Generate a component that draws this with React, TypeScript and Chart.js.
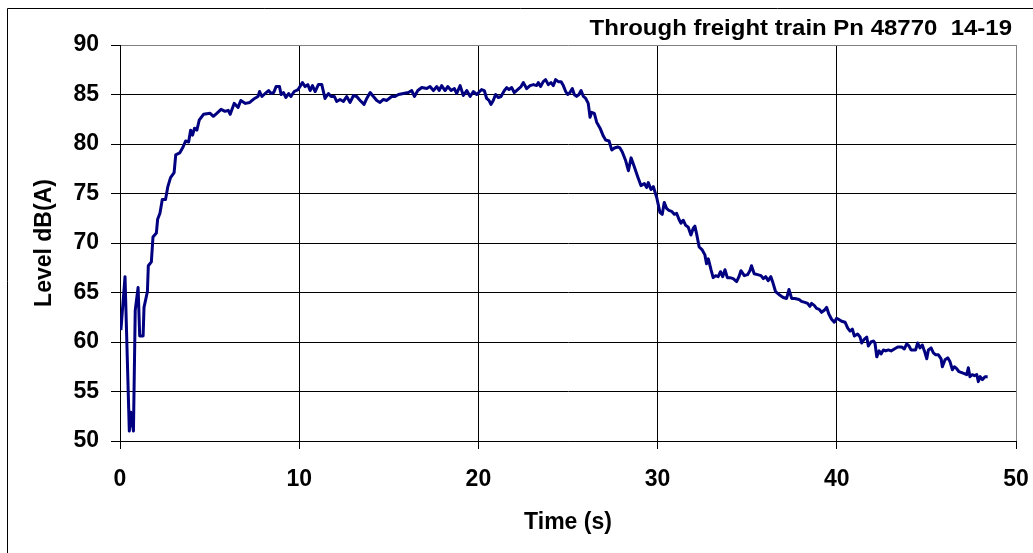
import React, { useEffect, useRef } from "react";
import { Chart, registerables } from "chart.js";

Chart.register(...registerables);

// Pass-by noise record: time since start of measurement (s)
const timeSec = [
  0.05, 0.28, 0.52, 0.6, 0.75, 0.85, 1.01, 1.1, 1.29, 1.34, 1.53, 1.58, 1.75, 1.84, 2.03, 2.1, 2.23, 2.36, 2.54, 2.67,
  2.82, 3.02, 3.11, 3.33, 3.52, 3.66, 3.83, 3.94, 4.05, 4.16, 4.29, 4.42, 4.66, 5.03, 5.21, 5.4, 5.64, 5.86, 6.04, 6.15,
  6.37, 6.59, 6.74, 7.0, 7.24, 7.51, 7.7, 7.79, 7.92, 8.16, 8.29, 8.43, 8.58, 8.71, 8.9, 8.99, 9.12, 9.26, 9.41, 9.54,
  9.72, 9.94, 10.18, 10.33, 10.48, 10.61, 10.74, 10.89, 11.07, 11.26, 11.44, 11.63, 11.78, 11.96, 12.09, 12.28, 12.47, 12.65, 12.84, 13.03,
  13.21, 13.4, 13.62, 13.77, 13.96, 14.14, 14.33, 14.51, 14.7, 14.89, 15.16, 15.35, 15.54, 15.82, 16.09, 16.28, 16.43, 16.62, 16.84, 17.12,
  17.3, 17.49, 17.68, 17.81, 17.95, 18.14, 18.29, 18.48, 18.66, 18.79, 18.98, 19.16, 19.35, 19.54, 19.72, 19.91, 20.18, 20.33, 20.46, 20.59,
  20.7, 20.83, 20.96, 21.11, 21.26, 21.45, 21.58, 21.71, 21.86, 22.0, 22.19, 22.38, 22.51, 22.69, 22.88, 23.07, 23.25, 23.34, 23.47, 23.62,
  23.75, 23.9, 24.05, 24.18, 24.31, 24.46, 24.61, 24.74, 24.87, 24.98, 25.11, 25.24, 25.35, 25.48, 25.61, 25.73, 25.86, 25.99, 26.13, 26.23,
  26.32, 26.47, 26.6, 26.79, 26.97, 27.1, 27.29, 27.44, 27.59, 27.77, 27.9, 28.03, 28.22, 28.37, 28.52, 28.7, 28.89, 29.07, 29.26, 29.39,
  29.48, 29.63, 29.76, 29.95, 30.13, 30.26, 30.37, 30.5, 30.63, 30.78, 30.93, 31.06, 31.19, 31.3, 31.43, 31.56, 31.71, 31.86, 31.99, 32.08,
  32.18, 32.32, 32.49, 32.64, 32.73, 32.83, 32.98, 33.1, 33.24, 33.38, 33.51, 33.63, 33.76, 33.89, 34.04, 34.22, 34.41, 34.54, 34.65, 34.84,
  35.02, 35.15, 35.24, 35.39, 35.58, 35.77, 35.9, 36.03, 36.17, 36.32, 36.45, 36.58, 36.77, 37.01, 37.2, 37.33, 37.48, 37.66, 37.89, 38.03,
  38.22, 38.37, 38.5, 38.59, 38.74, 38.87, 39.02, 39.15, 39.3, 39.43, 39.56, 39.71, 39.86, 39.99, 40.09, 40.27, 40.46, 40.61, 40.74, 40.87,
  40.98, 41.16, 41.3, 41.39, 41.54, 41.67, 41.76, 41.91, 42.04, 42.13, 42.23, 42.36, 42.47, 42.6, 42.73, 42.88, 43.03, 43.21, 43.4, 43.62,
  43.77, 43.9, 44.03, 44.14, 44.27, 44.4, 44.51, 44.64, 44.77, 44.89, 45.02, 45.11, 45.26, 45.39, 45.52, 45.67, 45.82, 45.89, 46.04, 46.19,
  46.32, 46.45, 46.56, 46.69, 46.82, 46.97, 47.12, 47.25, 47.34, 47.43, 47.56, 47.68, 47.81, 47.9, 48.0, 48.12, 48.27, 48.42,
];

// A-weighted sound level at each sample, dB(A)
const levelDbA = [
  61.2, 66.6, 51.0, 52.9, 51.0, 63.2, 65.5, 60.6, 60.6, 63.5, 65.1, 67.7, 68.1, 70.6, 71.0, 72.4, 73.0, 74.4, 74.4, 75.7,
  76.6, 77.1, 78.9, 79.1, 79.7, 80.3, 80.2, 81.4, 80.9, 81.6, 81.4, 82.4, 83.0, 83.1, 82.8, 83.1, 83.5, 83.3, 83.4, 83.0,
  84.1, 83.7, 84.4, 84.1, 84.2, 84.6, 84.8, 85.3, 84.8, 85.2, 85.4, 85.1, 85.2, 85.8, 85.8, 85.0, 85.2, 84.7, 85.1, 84.8,
  85.3, 85.5, 86.2, 85.8, 86.0, 85.4, 85.9, 85.3, 86.0, 86.0, 84.6, 85.1, 84.8, 84.8, 84.3, 84.5, 84.3, 84.8, 84.2, 84.9,
  84.8, 84.4, 84.0, 84.6, 85.2, 84.8, 84.4, 84.2, 84.5, 84.4, 84.8, 84.8, 85.0, 85.1, 85.2, 85.4, 84.8, 85.4, 85.7, 85.6,
  85.8, 85.4, 85.8, 85.4, 85.9, 85.4, 85.8, 85.4, 85.6, 85.1, 85.9, 84.9, 85.4, 84.8, 85.3, 85.0, 85.5, 85.4, 84.6, 84.4,
  84.0, 84.4, 85.0, 84.7, 84.8, 85.4, 85.7, 85.5, 85.7, 85.2, 85.5, 85.8, 86.2, 85.6, 85.9, 86.0, 85.9, 86.2, 85.8, 86.3,
  86.5, 86.0, 86.2, 85.9, 86.5, 86.3, 86.3, 85.9, 85.3, 85.0, 85.2, 85.6, 85.0, 84.8, 85.0, 85.4, 84.8, 84.6, 84.1, 82.7,
  83.2, 83.1, 82.2, 81.6, 80.8, 80.4, 80.3, 79.4, 79.6, 79.7, 79.6, 79.2, 78.3, 77.3, 78.6, 77.7, 76.7, 75.8, 76.0, 75.6,
  76.1, 75.4, 75.7, 74.6, 73.1, 72.9, 74.1, 73.5, 73.3, 73.2, 72.9, 73.0, 72.4, 72.0, 72.3, 71.8, 71.6, 70.8, 71.5, 71.7,
  70.9, 69.6, 69.3, 68.8, 67.9, 68.4, 67.3, 66.5, 66.7, 66.6, 67.1, 66.6, 67.3, 66.5, 66.5, 66.4, 66.1, 66.6, 67.2, 66.7,
  66.8, 67.2, 67.7, 66.9, 66.8, 66.7, 66.4, 66.6, 66.2, 66.6, 65.9, 65.1, 64.8, 64.5, 64.4, 65.3, 64.4, 64.4, 64.3, 64.1,
  64.0, 63.9, 63.6, 63.9, 63.7, 63.4, 63.3, 63.0, 63.2, 63.5, 62.8, 62.3, 62.0, 62.4, 62.3, 62.1, 62.0, 61.4, 61.1, 61.3,
  60.6, 60.8, 60.5, 59.9, 60.3, 60.5, 59.6, 60.0, 60.1, 59.9, 58.5, 59.1, 58.8, 59.2, 59.1, 59.2, 59.1, 59.3, 59.5, 59.5,
  59.3, 59.8, 59.6, 59.2, 59.2, 59.2, 59.9, 59.4, 59.7, 59.1, 58.3, 59.2, 59.4, 58.9, 58.7, 58.7, 58.3, 57.5, 58.2, 58.4,
  58.0, 57.2, 57.5, 57.3, 57.0, 56.9, 56.8, 56.7, 57.4, 56.5, 56.7, 56.6, 56.7, 56.0, 56.5, 56.2, 56.5, 56.5,
];

const chartTitle = "Through freight train Pn 48770  14-19";
const xAxisTitle = "Time (s)";
const yAxisTitle = "Level dB(A)";
const xRange = [0, 50];
const yRange = [50, 90];
const xStep = 10;
const yStep = 5;

const FONT = "'Liberation Sans', Arial, Helvetica, sans-serif";
const LINE_COLOR = "#000080";
const FRAME_GREY = "#808080";

// Outer frame of the chart object and the right-aligned heading
const framePlugin = {
  id: "frameAndHeading",
  beforeDraw(chart: Chart) {
    const { ctx, width, height } = chart;
    ctx.save();
    ctx.fillStyle = "#ffffff";
    ctx.fillRect(0, 0, width, height);
    ctx.strokeStyle = "#000000";
    ctx.lineWidth = 1;
    ctx.beginPath();
    ctx.moveTo(7.5, height + 2);
    ctx.lineTo(7.5, 8.5);
    ctx.lineTo(width + 2, 8.5);
    ctx.stroke();
    ctx.restore();
  },
  afterDraw(chart: Chart) {
    const { ctx } = chart;
    ctx.save();
    ctx.fillStyle = "#000000";
    ctx.font = `bold 22px ${FONT}`;
    ctx.textAlign = "right";
    ctx.textBaseline = "alphabetic";
    // heading set slightly wide, right-aligned near the frame edge
    ctx.translate(1012, 35);
    ctx.scale(1.09, 1);
    ctx.fillText(chartTitle, 0, 0);
    ctx.restore();
  },
};

export default function App() {
  const canvasRef = useRef<HTMLCanvasElement | null>(null);

  useEffect(() => {
    const canvas = canvasRef.current;
    if (!canvas) return;
    const points = timeSec.map((t, i) => ({ x: t, y: levelDbA[i] }));

    const chart = new Chart(canvas, {
      type: "line",
      data: {
        datasets: [
          {
            data: points,
            borderColor: LINE_COLOR,
            borderWidth: 3,
            pointRadius: 0,
            tension: 0,
            fill: false,
            borderJoinStyle: "round",
          },
        ],
      },
      options: {
        animation: false,
        responsive: false,
        maintainAspectRatio: false,
        devicePixelRatio: 1,
        layout: { padding: { left: 0, top: 45, right: 17, bottom: 0 } },
        plugins: {
          legend: { display: false },
          title: { display: false },
          tooltip: { enabled: false },
        },
        scales: {
          x: {
            type: "linear",
            min: xRange[0],
            max: xRange[1],
            border: { display: true, color: "#000000", width: 1 },
            grid: {
              color: (c: any) => (c.tick && c.tick.value === xRange[1] ? FRAME_GREY : "#000000"),
              tickColor: "#000000",
              lineWidth: 1,
              drawTicks: true,
              tickLength: 8,
            },
            ticks: {
              stepSize: xStep,
              color: "#000000",
              padding: 17,
              maxRotation: 0,
              font: { family: FONT, size: 23, weight: "bold" },
            },
            title: {
              display: true,
              text: xAxisTitle,
              color: "#000000",
              font: { family: FONT, size: 23, weight: "bold" },
              padding: { top: 0, bottom: 17 },
            },
            afterFit(scale: any) {
              scale.height = 112;
              scale.paddingLeft = 0;
              scale.paddingRight = 0;
            },
          },
          y: {
            type: "linear",
            min: yRange[0],
            max: yRange[1],
            border: { display: true, color: "#000000", width: 1 },
            grid: {
              color: (c: any) => (c.tick && c.tick.value === yRange[1] ? FRAME_GREY : "#000000"),
              tickColor: "#000000",
              lineWidth: 1,
              drawTicks: true,
              tickLength: 9,
            },
            ticks: {
              stepSize: yStep,
              color: "#000000",
              padding: 12,
              font: { family: FONT, size: 23, weight: "bold" },
            },
            title: {
              display: true,
              text: yAxisTitle,
              color: "#000000",
              font: { family: FONT, size: 23, weight: "bold" },
              padding: { top: 31, bottom: 0 },
            },
            afterFit(scale: any) {
              scale.width = 120;
              scale.paddingTop = 0;
              scale.paddingBottom = 0;
            },
          },
        },
      },
      plugins: [framePlugin],
    });

    return () => chart.destroy();
  }, []);

  return (
    <div style={{ position: "absolute", left: 0, top: 0, width: 1033, height: 553, overflow: "hidden", background: "#fff" }}>
      <canvas ref={canvasRef} width={1033} height={553} style={{ display: "block", width: 1033, height: 553 }} />
    </div>
  );
}
